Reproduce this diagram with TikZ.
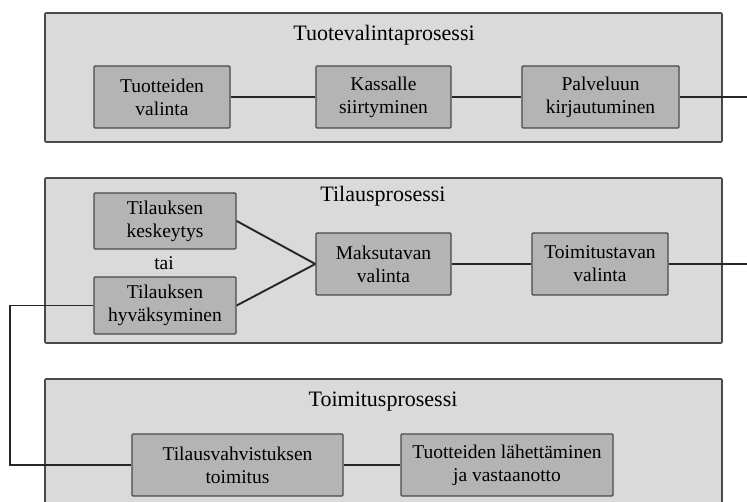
\documentclass[tikz,border=0pt]{standalone}
\usepackage{fontspec}
\setmainfont{Liberation Serif}
\usetikzlibrary{positioning, calc}
\definecolor{panelgray}{HTML}{DADADA}
\definecolor{phasegray}{HTML}{B4B4B4}
\definecolor{edgegray}{HTML}{4A4A4A}
\tikzset{
  process/.style={rectangle,draw=edgegray,line width=1.6pt,fill=panelgray,rounded corners=1pt,minimum width=677pt},
  ptitle/.style={font=\fontsize{22}{26}\selectfont},
  phase/.style={rectangle,draw=edgegray,line width=1.4pt,fill=phasegray,rounded corners=1pt,align=center,minimum height=62pt,inner sep=0pt,font=\fontsize{19.5}{23}\selectfont},
  flow/.style={line width=1.9pt,black!85},
}

\begin{document}
\begin{tikzpicture}[x=1pt,y=-1pt]
	\clip (0,0) rectangle (747,502);
	\node[process,minimum height=129pt] (P1) at (383.5,77.5) {};
	\node[process,minimum height=165pt] (P2) at (383.5,260.5) {};
	\node[process,minimum height=151pt] (P3) at (383.5,454.5) {};
	\node[ptitle] (T1) at (384,35) {Tuotevalintaprosessi};
	\node[ptitle] (T2) at (383,196) {Tilausprosessi};
	\node[ptitle] (T3) at (383,402) {Toimitusprosessi};
	\node[phase,minimum width=136pt] (tv) at (162,97) {Tuotteiden\\valinta};
	\node[phase,minimum width=135pt] (ks) at (383.5,97) {Kassalle\\siirtyminen};
	\node[phase,minimum width=157pt] (pk) at (600.5,97) {Palveluun\\kirjautuminen};
	\node[phase,minimum width=142pt,minimum height=56pt] (kk) at (165,221) {Tilauksen\\keskeytys};
	\node[font=\fontsize{19.5}{23}\selectfont] (tai) at (164,263) {tai};
	\node[phase,minimum width=142pt,minimum height=57pt] (hv) at (165,305.5) {Tilauksen\\hyväksyminen};
	\node[phase,minimum width=135pt] (mv) at (383.5,264) {Maksutavan\\valinta};
	\node[phase,minimum width=136pt] (tt) at (600,264) {Toimitustavan\\valinta};
	\node[phase,minimum width=211pt] (tvt) at (237.5,465) {Tilausvahvistuksen\\toimitus};
	\node[phase,minimum width=212pt] (la) at (507,465) {Tuotteiden lähettäminen\\ja vastaanotto};
	\coordinate (E1) at (747,97);
	\coordinate (E2) at (747,264);
	\coordinate (L) at (10,305.5);
	\draw[flow] (tv) -- (ks) -- (pk) -- (E1);
	\draw[flow] (kk.east) -- (mv.west);
	\draw[flow] (hv.east) -- (mv.west);
	\draw[flow] (mv) -- (tt) -- (E2);
	\draw[flow] (hv.west) -- (L) |- (tvt.west);
	\draw[flow] (tvt) -- (la);
\end{tikzpicture}
\end{document}
